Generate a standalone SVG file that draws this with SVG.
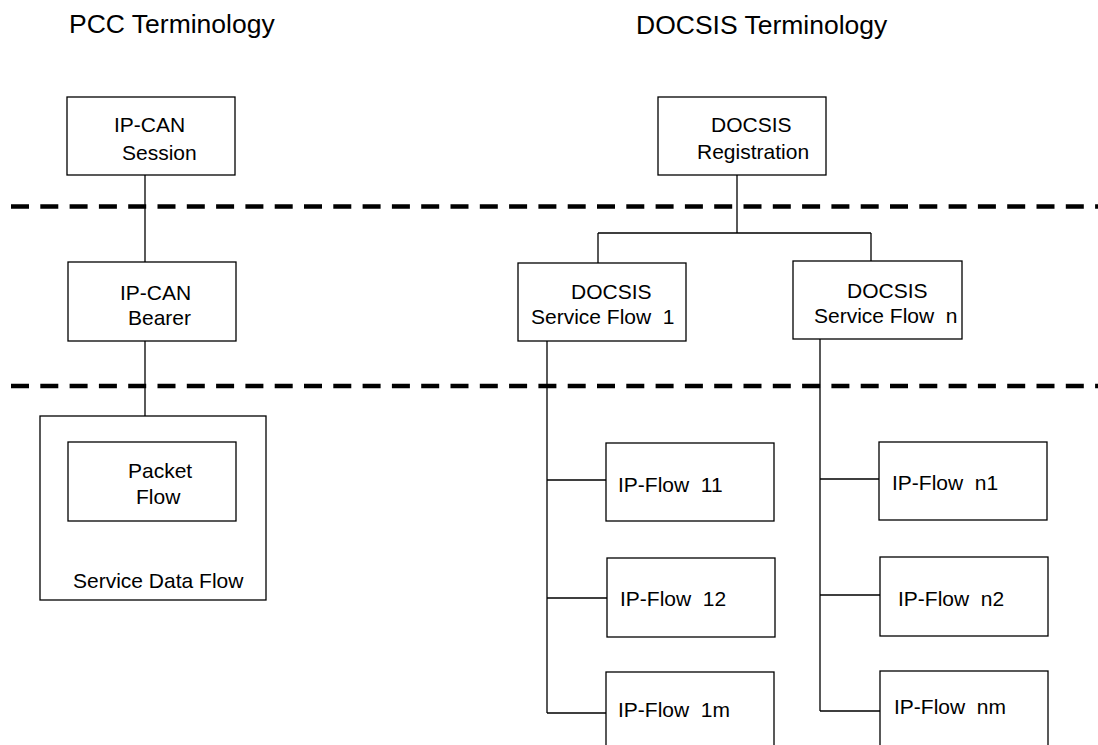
<svg xmlns="http://www.w3.org/2000/svg" width="1098" height="745" viewBox="0 0 1098 745" xml:space="preserve">
<style>
.box{fill:#fff;stroke:#000;stroke-width:1.3}
.ln{fill:none;stroke:#000;stroke-width:1.3}
.dash{fill:none;stroke:#000;stroke-width:4.5;stroke-dasharray:18 11.3}
text{font-family:"Liberation Sans",Arial,sans-serif;font-size:21px;fill:#000;white-space:pre}
.title{font-size:26.5px}
</style>
<rect width="1098" height="745" fill="#fff"/>
<g id="titles">
<text class="title" x="69" y="33">PCC Terminology</text>
<text class="title" x="636" y="34">DOCSIS Terminology</text>
</g>
<g id="separators">
<path class="dash" d="M11,206.5 H1098"/>
<path class="dash" d="M11,386 H1098"/>
</g>
<g id="connectors">
<path class="ln" d="M145,175 V262"/>
<path class="ln" d="M145,341 V442"/>
<path class="ln" d="M737,175 V233 M598,233 H871 M598,233 V263 M871,233 V261"/>
<path class="ln" d="M547,341 V713 M547,480 H606 M547,598 H607 M547,713 H606"/>
<path class="ln" d="M820,339 V711 M820,479 H879 M820,595 H880 M820,711 H880"/>
</g>
<g id="ipcan-session">
<rect class="box" x="67" y="97" width="168" height="78"/>
<text x="114" y="132">IP-CAN</text>
<text x="122" y="160">Session</text>
</g>
<g id="ipcan-bearer">
<rect class="box" x="68" y="262" width="168" height="79"/>
<text x="120" y="300">IP-CAN</text>
<text x="128" y="325">Bearer</text>
</g>
<g id="service-data-flow">
<rect class="box" x="40" y="416" width="226" height="184"/>
<text x="73" y="588">Service Data Flow</text>
</g>
<g id="packet-flow">
<rect class="box" x="68" y="442" width="168" height="79"/>
<text x="128" y="478">Packet</text>
<text x="136" y="504">Flow</text>
</g>
<g id="docsis-registration">
<rect class="box" x="658" y="97" width="168" height="78"/>
<text x="711" y="132">DOCSIS</text>
<text x="697" y="159">Registration</text>
</g>
<g id="service-flow-1">
<rect class="box" x="518" y="263" width="168" height="78"/>
<text x="571" y="299">DOCSIS</text>
<text x="531" y="324">Service Flow  1</text>
</g>
<g id="service-flow-n">
<rect class="box" x="793" y="261" width="169" height="78"/>
<text x="847" y="298">DOCSIS</text>
<text x="814" y="323">Service Flow  n</text>
</g>
<g id="ip-flow-11">
<rect class="box" x="606" y="443" width="168" height="78"/>
<text x="618" y="492">IP-Flow  11</text>
</g>
<g id="ip-flow-12">
<rect class="box" x="607" y="558" width="168" height="79"/>
<text x="620" y="606">IP-Flow  12</text>
</g>
<g id="ip-flow-1m">
<rect class="box" x="606" y="672" width="168" height="90"/>
<text x="618" y="717">IP-Flow  1m</text>
</g>
<g id="ip-flow-n1">
<rect class="box" x="879" y="442" width="168" height="78"/>
<text x="892" y="490">IP-Flow  n1</text>
</g>
<g id="ip-flow-n2">
<rect class="box" x="880" y="557" width="168" height="79"/>
<text x="898" y="606">IP-Flow  n2</text>
</g>
<g id="ip-flow-nm">
<rect class="box" x="880" y="671" width="168" height="90"/>
<text x="894" y="714">IP-Flow  nm</text>
</g>
</svg>
